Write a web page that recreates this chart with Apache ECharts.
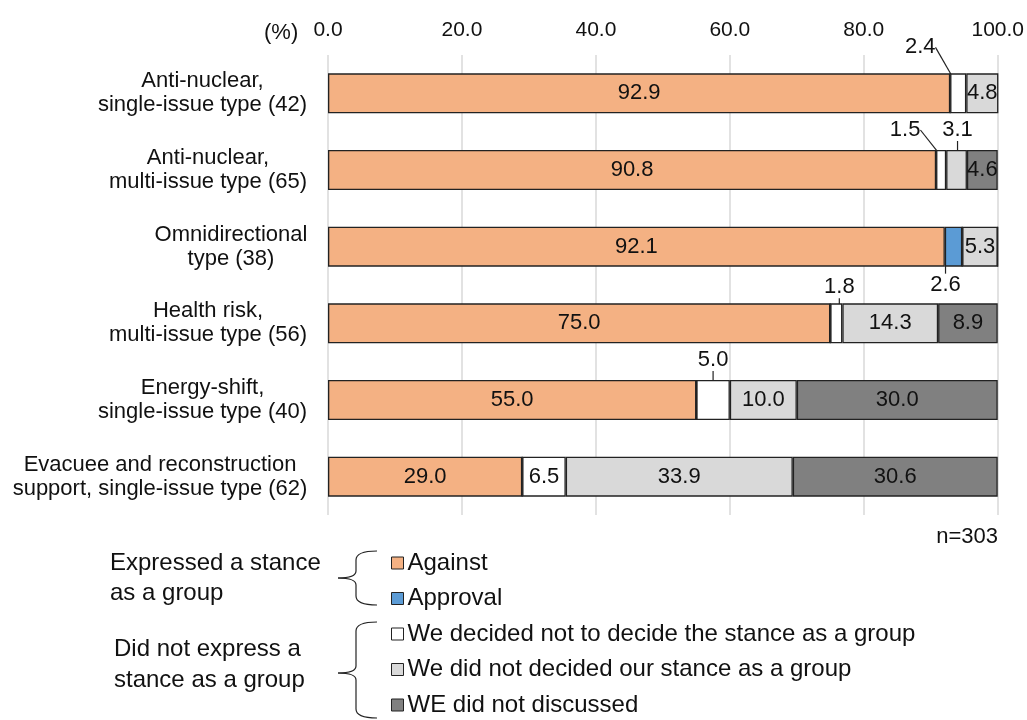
<!DOCTYPE html>
<html>
<head>
<meta charset="utf-8">
<script src="https://cdn.jsdelivr.net/npm/echarts@6/dist/echarts.min.js"></script>
<style>
  html, body { margin: 0; padding: 0; background: #fff; }
  #chart { width: 1027px; height: 720px; }
</style>
</head>
<body>
<div id="chart"></div>
<script>
const categories = [
  'Anti-nuclear,\nsingle-issue type (42)',
  'Anti-nuclear,\nmulti-issue type (65)',
  'Omnidirectional\ntype (38)',
  'Health risk,\nmulti-issue type (56)',
  'Energy-shift,\nsingle-issue type (40)',
  'Evacuee and reconstruction\nsupport, single-issue type (62)'
];
const seriesNames = [
  'Against',
  'Approval',
  'We decided not to decide the stance as a group',
  'We did not decided our stance as a group',
  'WE did not discussed'
];
const against = [92.9, 90.8, 92.1, 75.0, 55.0, 29.0];
const approval = [0, 0, 2.6, 0, 0, 0];
const notToDecide = [2.4, 1.5, 0, 1.8, 5.0, 6.5];
const notDecided = [4.8, 3.1, 5.3, 14.3, 10.0, 33.9];
const notDiscussed = [0, 4.6, 0, 8.9, 30.0, 30.6];
const colors = ['#F4B183', '#5B9BD5', '#FFFFFF', '#D9D9D9', '#808080'];

// labels that sit outside their thin segment: seriesIndex-dataIndex -> offset
const moved = {
  '1-2': [-8, 38],
  '2-0': [-38, -46],
  '2-1': [-36, -40],
  '2-3': [3, -36],
  '2-4': [0, -40],
  '3-1': [1, -40]
};

const font = 'Liberation Sans, Arial, sans-serif';
const ink = '#111';
const catSize = 22;
const chart = echarts.init(document.getElementById('chart'));

// category labels: lines centred inside a block that is right-aligned to the axis
const ctx = document.createElement('canvas').getContext('2d');
ctx.font = catSize + 'px ' + font;
const catRich = {};
categories.forEach((c, i) => {
  const w = Math.max(...c.split('\n').map((l) => ctx.measureText(l).width));
  catRich['c' + i] = { width: Math.ceil(w) + 1, align: 'center', fontSize: catSize, fontFamily: font, color: ink, lineHeight: 24 };
});

const series = [against, approval, notToDecide, notDecided, notDiscussed].map((vals, si) => ({
  name: seriesNames[si],
  type: 'bar',
  stack: 'total',
  barWidth: 40,
  itemStyle: { color: colors[si], borderColor: '#222', borderWidth: 1.3 },
  label: {
    show: true,
    position: 'inside',
    color: ink,
    fontFamily: font,
    fontSize: 22,
    formatter: (p) => (p.value > 0 ? p.value.toFixed(1) : '')
  },
  labelLine: { show: true, lineStyle: { color: '#222', width: 1.2 } },
  labelLayout: (p) => {
    const off = moved[si + '-' + p.dataIndex];
    return off ? { dx: off[0], dy: off[1] } : {};
  },
  data: vals
}));

// curly brace built from curves, x = tip x, top/mid/bottom y
function brace(tipX, top, mid, bottom) {
  const sx = tipX + 18, ex = tipX + 39;
  const st = { fill: 'none', stroke: '#222', lineWidth: 1.2 };
  return [
    { type: 'bezierCurve', shape: { x1: ex, y1: top, x2: sx, y2: top + 9, cpx1: sx, cpy1: top }, style: st },
    { type: 'line', shape: { x1: sx, y1: top + 9, x2: sx, y2: mid - 7 }, style: st },
    { type: 'bezierCurve', shape: { x1: sx, y1: mid - 7, x2: tipX, y2: mid, cpx1: sx, cpy1: mid }, style: st },
    { type: 'bezierCurve', shape: { x1: tipX, y1: mid, x2: sx, y2: mid + 7, cpx1: sx, cpy1: mid }, style: st },
    { type: 'line', shape: { x1: sx, y1: mid + 7, x2: sx, y2: bottom - 9 }, style: st },
    { type: 'bezierCurve', shape: { x1: sx, y1: bottom - 9, x2: ex, y2: bottom, cpx1: sx, cpy1: bottom }, style: st }
  ];
}

chart.setOption({
  animation: false,
  color: colors,
  textStyle: { fontFamily: font },
  grid: { left: 328, right: 29, top: 55, bottom: 205 },
  xAxis: {
    type: 'value',
    position: 'top',
    min: 0,
    max: 100,
    interval: 20,
    axisLine: { show: false },
    axisTick: { show: false },
    axisLabel: { color: ink, fontSize: 21, fontFamily: font, margin: 14, formatter: (v) => v.toFixed(1) },
    splitLine: { lineStyle: { color: '#D9D9D9', width: 1.5 } }
  },
  yAxis: {
    type: 'category',
    inverse: true,
    data: categories,
    axisLine: { show: false },
    axisTick: { show: false },
    axisLabel: {
      color: ink,
      fontSize: catSize,
      fontFamily: font,
      margin: 20,
      lineHeight: 24,
      align: 'right',
      formatter: (v, i) => v.split('\n').map((l) => '{c' + i + '|' + l + '}').join('\n'),
      rich: catRich
    }
  },
  legend: {
    orient: 'vertical',
    left: 391,
    top: 551,
    padding: 0,
    itemWidth: 12,
    itemHeight: 12,
    itemGap: 11.5,
    icon: 'rect',
    itemStyle: { borderColor: '#222', borderWidth: 1 },
    textStyle: { color: ink, fontSize: 24, fontFamily: font, padding: [0, 0, 0, -1] },
    data: seriesNames
  },
  graphic: [
    { type: 'text', left: 264, top: 22, style: { text: '(%)', fontSize: 22, fontFamily: font, fill: ink } },
    { type: 'text', right: 29, top: 526, style: { text: 'n=303', fontSize: 22, fontFamily: font, fill: ink } },
    { type: 'text', left: 110, top: 548, style: { text: 'Expressed a stance\nas a group', fontSize: 24, lineHeight: 30, fontFamily: font, fill: ink } },
    { type: 'text', left: 114, top: 634, style: { text: 'Did not express a\nstance as a group', fontSize: 24, lineHeight: 31, align: 'center', fontFamily: font, fill: ink } }
  ].concat(brace(338, 551, 578, 605), brace(338, 622, 673, 718)),
  series: series
});
</script>
</body>
</html>
